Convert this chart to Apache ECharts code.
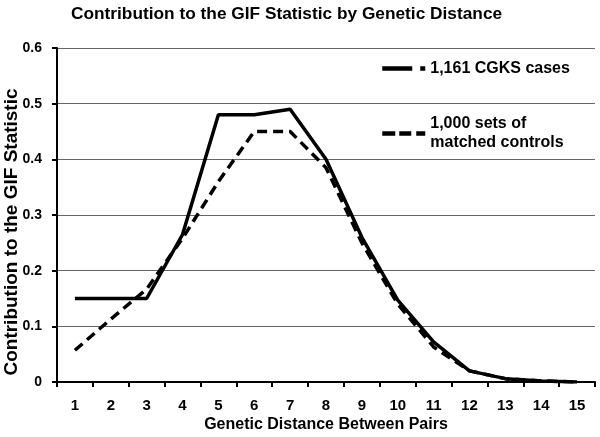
<!DOCTYPE html>
<html>
<head>
<meta charset="utf-8">
<script src="https://cdn.jsdelivr.net/npm/echarts@6/dist/echarts.min.js"></script>
<style>html,body{margin:0;padding:0;background:#fff;}#c{width:600px;height:437px;}</style>
</head>
<body>
<div id="c"></div>
<script>
var categories = ['1','2','3','4','5','6','7','8','9','10','11','12','13','14','15'];
var casesName = '1,161 CGKS cases';
var controlsName = '1,000 sets of\nmatched controls';
var casesValues = [0.15, 0.15, 0.15, 0.265, 0.48, 0.48, 0.49, 0.40, 0.26, 0.147, 0.072, 0.02, 0.006, 0.002, 0.0];
var controlsValues = [0.057, 0.113, 0.167, 0.258, 0.36, 0.45, 0.45, 0.385, 0.25, 0.14, 0.063, 0.02, 0.006, 0.002, 0.0];
var yTicks = [0, 0.1, 0.2, 0.3, 0.4, 0.5, 0.6];

var FONT = '"Liberation Sans", Arial, sans-serif';
var hiddenSymbol = {color: 'rgba(0,0,0,0)', borderColor: 'rgba(0,0,0,0)', borderWidth: 0};
var chart = echarts.init(document.getElementById('c'), null, {renderer: 'canvas'});
chart.setOption({
  animation: false,
  backgroundColor: '#ffffff',
  title: {
    text: 'Contribution to the GIF Statistic by Genetic Distance',
    left: 71, top: 6, padding: 0,
    textStyle: {fontFamily: FONT, fontWeight: 'bold', fontSize: 17.3, color: '#000'}
  },
  legend: [{
    data: [{name: casesName, lineStyle: {type: [30, 8, 9, 200], width: 4.5}}],
    orient: 'vertical', left: 375, top: 54,
    itemWidth: 43, itemHeight: 14, itemStyle: hiddenSymbol,
    textStyle: {fontFamily: FONT, fontWeight: 'bold', fontSize: 16, color: '#000', lineHeight: 19}
  }, {
    data: [{name: controlsName, lineStyle: {type: [13, 4, 12, 5, 9, 200], width: 4.5},
      textStyle: {padding: [19, 0, 0, 0], lineHeight: 19}}],
    orient: 'vertical', left: 375, top: 100,
    itemWidth: 43, itemHeight: 14, itemStyle: hiddenSymbol,
    textStyle: {fontFamily: FONT, fontWeight: 'bold', fontSize: 16, color: '#000', lineHeight: 19}
  }],
  grid: {left: 57, right: 5, top: 48, bottom: 55, containLabel: false, outerBoundsMode: 'none'},
  xAxis: {
    type: 'category', data: categories, boundaryGap: true,
    name: 'Genetic Distance Between Pairs', nameLocation: 'middle', nameGap: 35, nameMoveOverlap: false,
    nameTextStyle: {fontFamily: FONT, fontWeight: 'bold', fontSize: 16, color: '#000'},
    axisLine: {lineStyle: {color: '#000', width: 2}},
    axisTick: {show: true, length: 5, lineStyle: {color: '#000', width: 2}},
    axisLabel: {fontFamily: FONT, fontWeight: 'bold', fontSize: 15, color: '#000', margin: 16},
    splitLine: {show: false}
  },
  yAxis: {
    type: 'value', min: 0, max: 0.6, interval: 0.1,
    name: 'Contribution to the GIF Statistic', nameLocation: 'middle', nameGap: 36, nameRotate: 90, nameMoveOverlap: false,
    nameTextStyle: {fontFamily: FONT, fontWeight: 'bold', fontSize: 19, color: '#000', padding: [0, 34, 0, 0]},
    axisLine: {show: true, lineStyle: {color: '#000', width: 2}},
    axisTick: {show: true, length: 5, lineStyle: {color: '#000', width: 2}},
    axisLabel: {fontFamily: FONT, fontWeight: 'bold', fontSize: 14, color: '#000', margin: 15,
      formatter: function (v) { var t = yTicks.filter(function (x) { return Math.abs(x - v) < 1e-9; }); return t.length ? String(t[0]) : ''; }},
    splitLine: {show: true, lineStyle: {color: '#666', width: 1}}
  },
  series: [{
    name: casesName, type: 'line', data: casesValues, symbol: 'none', smooth: false,
    lineStyle: {color: '#000', width: 3.5, type: 'solid'}, itemStyle: {color: '#000'}, z: 3
  }, {
    name: controlsName, type: 'line', data: controlsValues, symbol: 'none', smooth: false,
    lineStyle: {color: '#000', width: 3.5, type: [10, 6]}, itemStyle: {color: '#000'}, z: 2
  }]
});
</script>
</body>
</html>
